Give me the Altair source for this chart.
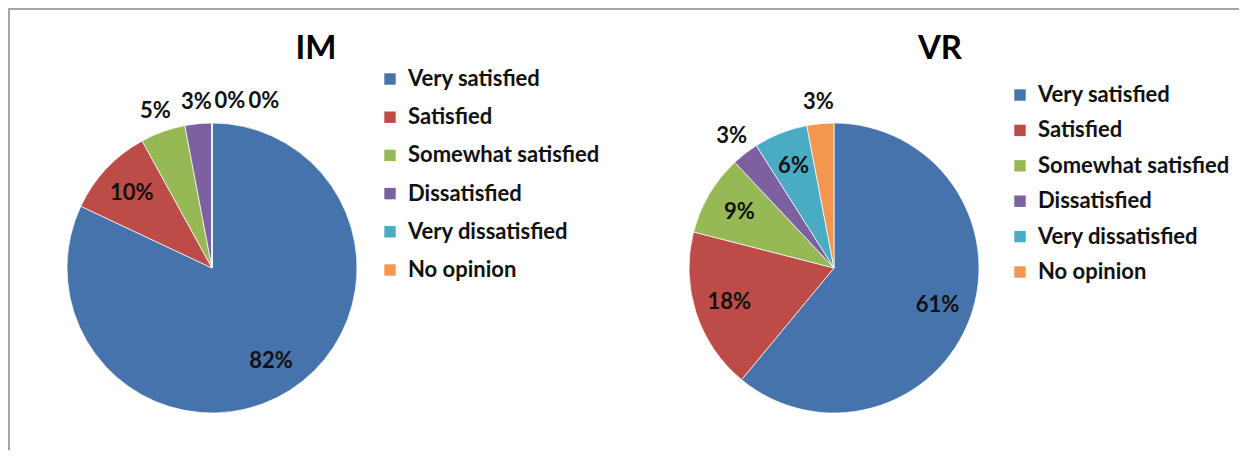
import altair as alt
import pandas as pd

categories = ["Very satisfied", "Satisfied", "Somewhat satisfied",
              "Dissatisfied", "Very dissatisfied", "No opinion"]
im_values = [82, 10, 5, 3, 0, 0]
vr_values = [61, 18, 9, 3, 6, 3]
chart_titles = ["IM", "VR"]
colors = ["#4673AB", "#BD4B48", "#97B955", "#7C609F", "#4AABC5", "#F29650"]

FONT = "Lato"
W, H = 1231, 442
R = 145


def pie(values, title, cx, cy, lx, ly, row_pad, tx):
    df = pd.DataFrame({"category": categories, "value": values,
                       "idx": list(range(len(categories)))})
    df["label"] = df["value"].astype(str) + "%"
    base = alt.Chart(df).transform_joinaggregate(
        total="sum(value)"
    ).transform_window(
        cum="sum(value)", sort=[alt.SortField("idx")], frame=[None, 0]
    ).transform_calculate(
        start="(datum.cum - datum.value) / datum.total * 2 * PI",
        end="datum.cum / datum.total * 2 * PI",
        mid="(datum.cum - datum.value / 2) / datum.total * 2 * PI",
        r="datum.value >= 6 ? 110 : 167",
    )
    pos = dict(x=alt.value(cx), y=alt.value(cy))
    arc = base.mark_arc(radius=R, stroke="white", strokeWidth=1, strokeOpacity=0.7).encode(
        theta=alt.Theta("start:Q", scale=None), theta2="end:Q",
        color=alt.Color("category:N", sort=categories,
                        scale=alt.Scale(domain=categories, range=colors),
                        legend=alt.Legend(title=None, orient="none", legendX=lx, legendY=ly,
                                          symbolType="square", symbolSize=130,
                                          symbolStrokeWidth=0, labelFont=FONT,
                                          labelFontSize=22, labelFontWeight="bold",
                                          labelColor="#111111", rowPadding=row_pad,
                                          labelOffset=7, labelLimit=400)),
        **pos)
    txt = dict(font=FONT, fontSize=22, fontWeight="bold", color="#111111",
               align="center", baseline="middle")
    labels = base.transform_filter("datum.value > 0").mark_text(**txt).encode(
        theta=alt.Theta("mid:Q", scale=None), radius=alt.Radius("r:Q", scale=None),
        text="label:N", **pos)
    layers = [arc, labels]
    zero_cats = [c for c, v in zip(categories, values) if v == 0]
    for k, c in enumerate(zero_cats):
        layers.append(base.transform_filter(alt.datum.category == c).mark_text(
            dx=18 + 34 * k, **txt).encode(theta=alt.Theta("mid:Q", scale=None),
                                          radius=alt.Radius("r:Q", scale=None),
                                          text="label:N", **pos))
    tdf = pd.DataFrame({"t": [title]})
    layers.append(alt.Chart(tdf).mark_text(font=FONT, fontSize=33, fontWeight="bold",
                                           color="#000000", align="center",
                                           baseline="alphabetic").encode(
        text="t:N", x=alt.value(tx), y=alt.value(51)))
    return alt.layer(*layers)


im = pie(im_values, chart_titles[0], 204, 260, 371, 60, 16.2, 308)
vr = pie(vr_values, chart_titles[1], 826, 260, 1001, 76, 13.4, 932)

bdf = pd.DataFrame({"k": [0]})
border_top = alt.Chart(bdf).mark_rule(color="#A6A6A6", strokeWidth=2).encode(
    x=alt.value(0), x2=alt.value(W), y=alt.value(1))
border_left = alt.Chart(bdf).mark_rule(color="#A6A6A6", strokeWidth=2).encode(
    x=alt.value(1), y=alt.value(0), y2=alt.value(H))

chart = alt.layer(border_top, border_left, im, vr).resolve_scale(
    color="independent").properties(
    width=W, height=H, autosize=alt.AutoSizeParams(type="none"), padding=0
).configure_view(stroke=None)

chart.save("out.html", embed_options={"renderer": "svg", "actions": False})
